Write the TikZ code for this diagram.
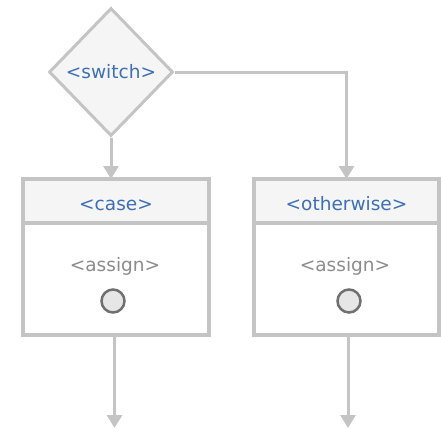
\documentclass[tikz,border=0pt]{standalone}
\usepackage{fontspec}
\setmainfont{DejaVu Sans}
\usetikzlibrary{positioning,shapes.geometric,arrows.meta}
\definecolor{linegray}{RGB}{196,196,196}
\definecolor{headfill}{RGB}{245,245,245}
\definecolor{labelblue}{RGB}{62,110,180}
\definecolor{textgray}{RGB}{140,140,140}
\definecolor{dotfill}{RGB}{230,230,230}
\definecolor{dotedge}{RGB}{112,112,112}
\tikzset{flow/.style={draw=linegray,line width=3pt,-{Triangle[width=15pt,length=13pt]}},
  switchbox/.style={diamond,draw=linegray,line width=3pt,fill=headfill,minimum width=124pt,minimum height=128pt,inner sep=0pt,text=labelblue},
  headbox/.style={rectangle,draw=linegray,line width=4pt,fill=headfill,minimum height=44pt,outer sep=0pt,text=labelblue,text height=18pt,text depth=0pt},
  bodybox/.style={rectangle,draw=linegray,line width=4pt,fill=white,minimum height=112pt,outer sep=0pt},
  assigntext/.style={text=textgray,inner sep=0pt},
  assigndot/.style={circle,draw=dotedge,line width=2.5pt,fill=dotfill,minimum size=23pt,inner sep=0pt}}

\begin{document}
\begin{tikzpicture}[x=1pt,y=-1pt,font=\fontsize{18.5}{22}\selectfont]
        \useasboundingbox (0,0) rectangle (441,429);
        \node[switchbox] (switch) at (111,72) {<switch>};
        \node[headbox,minimum width=186pt] (casehead) at (116,201) {<case>};
        \node[bodybox,minimum width=186pt,below=0pt of casehead] (casebody) {};
        \node[headbox,minimum width=185pt] (otherhead) at (346.5,201) {<otherwise>};
        \node[bodybox,minimum width=185pt,below=0pt of otherhead] (otherbody) {};
        \node[assigntext] (caseassign) at (115,266) {<assign>};
        \node[assigndot] (casedot) at (113,301) {};
        \node[assigntext] (otherassign) at (345,266) {<assign>};
        \node[assigndot] (otherdot) at (349,301) {};
        \coordinate (caseout) at (114.5,428);
        \coordinate (otherout) at (348,428);
        \draw[flow] (switch.south) -- (switch.south |- casehead.north);
        \draw[flow] (switch.east) -| (otherhead.north);
        \draw[flow] (casebody.south -| caseout) -- (caseout);
        \draw[flow] (otherbody.south -| otherout) -- (otherout);
    \end{tikzpicture}
\end{document}
